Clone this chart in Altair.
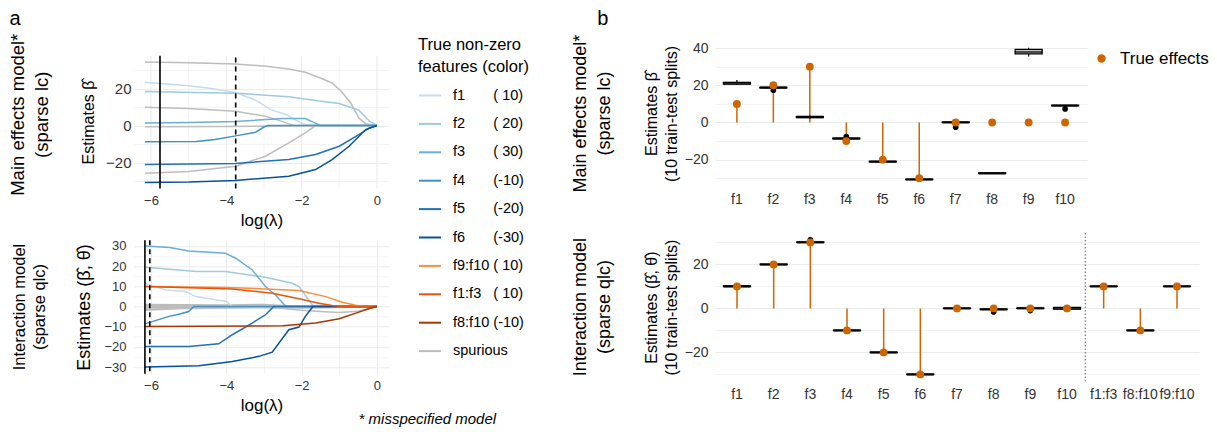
import json
import altair as alt
import pandas as pd

FONT = "Liberation Sans"

# ---------------- Panel a: regularisation paths ----------------
series_order = ["f1", "f2", "f3", "f4", "f5", "f6", "f9:f10", "f1:f3", "f8:f10", "spurious"]
series_colors = ["#c6dbef", "#9ecae1", "#6baed6", "#4292c6", "#2171b5", "#08519c",
                 "#fd8d3c", "#e6550d", "#a63603", "#bdbdbd"]
series_true = ["(\u00a010)", "(\u00a020)", "(\u00a030)", "(-10)", "(-20)", "(-30)",
               "(\u00a010)", "(\u00a010)", "(-10)", ""]
series_gap = [7, 7, 7, 7, 7, 7, 1, 3, 1, 0]

# main effects model (sparse lc): (log lambda, estimate)
top_f1 = [(-6.16, 23.4), (-5.0, 21.5), (-4.3, 19.8), (-3.73, 17.7), (-3.2, 13.5), (-2.82, 8.6),
          (-2.42, 6.0), (-2.2, 3.5), (-1.98, 1.0), (-1.8, 0), (0, 0)]
top_f2 = [(-6.16, 18.4), (-3.73, 17.5), (-2.34, 15.5), (-1.54, 13.2), (-1.0, 11.9),
          (-0.48, 8.3), (-0.2, 2.3), (0, 0)]
top_f3 = [(-6.16, 1.3), (-5.0, 1.6), (-3.75, 2.2), (-2.5, 3.8), (-1.9, 3.8), (-1.7, 1.8),
          (-1.5, 0), (0, 0)]
top_f4 = [(-6.16, -8.8), (-4.8, -8.6), (-4.3, -7.6), (-3.75, -5.6), (-3.22, -3.6), (-3.0, -0.8),
          (-2.9, 0), (0, 0)]
top_f5 = [(-6.16, -21.1), (-3.75, -20.5), (-2.34, -18.4), (-1.63, -15.7), (-1.0, -11.2),
          (-0.48, -4.9), (-0.2, -1.3), (0, 0)]
top_f6 = [(-6.16, -30.8), (-5.0, -30.6), (-3.75, -29.7), (-2.34, -27.4), (-1.63, -23.8),
          (-1.19, -18.4), (-0.74, -11.2), (-0.3, -2.2), (0, 0)]
top_f7 = [(-6.16, -0.7), (-4.0, -0.5), (-2.5, -0.3), (-1.7, 0), (0, 0)]
top_f8 = [(-6.16, -25.8), (-5.0, -24.8), (-3.75, -22.0), (-2.96, -16.6), (-2.34, -9.4),
          (-1.9, -4.0), (-1.63, 0), (0, 0)]
top_f9 = [(-6.16, 34.4), (-5.0, 34.0), (-3.75, 33.3), (-3.0, 32.2), (-2.34, 30.6), (-1.9, 28.8),
          (-1.4, 24.9), (-1.19, 23.0), (-0.95, 18.5), (-0.7, 12.3), (-0.48, 4.0), (-0.3, 1.0), (0, 0)]
top_f10 = [(-6.16, 9.9), (-5.0, 9.2), (-3.75, 7.7), (-2.96, 5.0), (-2.6, 2.8), (-2.34, 0.9),
           (-2.2, 0), (0, 0)]

# interaction model (sparse qlc)
bot_f1 = [(-6.16, 11.5), (-5.6, 8.2), (-5.08, 7.4), (-4.81, 4.9), (-4.0, 2.5), (-3.84, 0), (0, 0)]
bot_f2 = [(-6.16, 19.4), (-5.5, 18.5), (-4.81, 17.3), (-4.02, 17.3), (-2.96, 14.5), (-2.25, 11.5),
          (-2.07, 9.9), (-1.72, 0.8), (-1.68, 0), (0, 0)]
bot_f3 = [(-6.16, 30.0), (-5.5, 29.2), (-5.0, 27.5), (-4.02, 26.4), (-3.75, 23.9), (-3.31, 18.1),
          (-2.96, 9.9), (-2.7, 5.8), (-2.42, 0), (0, 0)]
bot_f4 = [(-6.16, -8.6), (-5.52, -4.9), (-5.26, -3.8), (-5.0, -2.5), (-4.86, 0), (0, 0)]
bot_f5 = [(-6.16, -19.8), (-5.0, -19.8), (-4.2, -18.5), (-3.84, -14.0), (-3.31, -8.2),
          (-2.96, -4.1), (-2.78, -0.8), (-2.75, 0), (0, 0)]
bot_f6 = [(-6.16, -30.0), (-4.73, -29.3), (-3.84, -27.2), (-3.13, -24.7), (-2.78, -22.6),
          (-2.34, -11.5), (-2.07, -10.2), (-1.9, -4.9), (-1.72, -0.5), (-1.7, 0), (0, 0)]
bot_f9f10 = [(-6.16, 9.9), (-4.0, 9.4), (-2.96, 8.7), (-2.07, 7.9), (-1.36, 4.9), (-0.92, 2.1),
             (-0.48, 0.2), (0, 0)]
bot_f1f3 = [(-6.16, 9.9), (-3.84, 8.7), (-2.78, 6.6), (-2.07, 3.8), (-1.54, 1.6), (-1.19, 0.5),
            (-0.9, 0), (0, 0)]
bot_f8f10 = [(-6.16, -9.9), (-2.5, -9.6), (-1.63, -8.2), (-1.0, -6.1), (-0.48, -2.8),
             (-0.2, -1.0), (0, 0)]
bot_s1 = [(-6.16, -1.8), (-5.5, -1.2), (-5.0, -0.5), (-4.5, 0), (0, 0)]
bot_s2 = [(-6.16, 1.0), (-4.0, 0.8), (-3.0, 1.0), (-2.5, 0.5), (-2.0, 0), (0, 0)]
bot_s3 = [(-6.16, -0.5), (-3.0, -0.3), (-2.5, -1.0), (-2.0, -1.8), (-1.5, -2.5), (-1.0, -3.0),
          (-0.5, -2.3), (0, 0)]
bot_s4 = [(-6.16, 0.4), (-3.5, 0.5), (-2.5, 0.3), (-1.5, 0.5), (-1.0, 0.3), (-0.5, 0), (0, 0)]
bot_s5 = [(-6.16, -1.2), (-3.0, -0.6), (-2.0, -0.8), (-1.0, -0.5), (0, 0)]
bot_s6 = [(-6.16, 0), (0, 0)]

rule_kinds = ["lambda.min", "lambda.1se"]
top_rule_lam = [-5.76, -3.75]
bot_rule_lam = [-6.16, -6.03]

x_ticks_a = [-6, -5, -4, -3, -2, -1, 0]
top_panel_ylim = [-34.05, 37.7]

# ---------------- Panel b: estimates over 10 splits ----------------
feat_top = ["f1", "f2", "f3", "f4", "f5", "f6", "f7", "f8", "f9", "f10"]
true_top = [10, 20, 30, -10, -20, -30, 0, 0, 0, 0]
est_top_f1 = [20.3, 20.5, 20.6, 20.8, 21.0, 21.2, 21.4, 21.6, 21.8, 22.8]
est_top_f2 = [18.5, 18.6, 18.7, 18.7, 18.8, 18.8, 18.9, 19.0, 19.1, 17.3]
est_top_f3 = [2.1, 2.4, 2.6, 2.8, 2.9, 3.0, 3.1, 3.2, 3.4, 3.7]
est_top_f4 = [-9.0, -8.9, -8.8, -8.7, -8.6, -8.6, -8.5, -8.4, -8.3, -7.6]
est_top_f5 = [-21.3, -21.2, -21.2, -21.1, -21.1, -21.0, -21.0, -20.9, -20.9, -20.8]
est_top_f6 = [-30.9, -30.8, -30.7, -30.7, -30.6, -30.6, -30.5, -30.5, -30.4, -30.3]
est_top_f7 = [-0.1, 0.0, 0.0, 0.1, 0.1, 0.2, 0.2, 0.3, 0.3, -2.5]
est_top_f8 = [-27.6, -27.5, -27.4, -27.4, -27.3, -27.3, -27.2, -27.1, -27.0, -26.9]
est_top_f9 = [35.5, 36.3, 36.8, 37.1, 37.6, 38.2, 38.9, 39.5, 39.8, 40.2]
est_top_f10 = [8.9, 9.0, 9.0, 9.1, 9.1, 9.2, 9.2, 9.3, 9.4, 7.3]

feat_bot = ["f1", "f2", "f3", "f4", "f5", "f6", "f7", "f8", "f9", "f10", "f1:f3", "f8:f10", "f9:f10"]
true_bot = [10, 20, 30, -10, -20, -30, 0, 0, 0, 0, 10, -10, 10]
est_bot_f1 = [9.6, 9.8, 9.9, 10.0, 10.0, 10.1, 10.2, 10.3, 10.4, 10.8]
est_bot_f2 = [19.8, 19.9, 19.9, 20.0, 20.0, 20.0, 20.1, 20.1, 20.2, 20.2]
est_bot_f3 = [29.8, 29.9, 30.0, 30.0, 30.1, 30.1, 30.2, 30.2, 30.3, 31.2]
est_bot_f4 = [-10.2, -10.1, -10.1, -10.0, -10.0, -10.0, -9.9, -9.9, -9.8, -9.8]
est_bot_f5 = [-20.2, -20.1, -20.1, -20.0, -20.0, -20.0, -19.9, -19.9, -19.8, -19.8]
est_bot_f6 = [-30.2, -30.1, -30.1, -30.0, -30.0, -30.0, -29.9, -29.9, -29.8, -29.8]
est_bot_f7 = [-0.1, 0.0, 0.0, 0.0, 0.0, 0.1, 0.1, 0.1, 0.2, 0.2]
est_bot_f8 = [-0.6, -0.5, -0.5, -0.4, -0.4, -0.3, -0.3, -0.2, -0.2, -1.6]
est_bot_f9 = [-0.1, 0.0, 0.0, 0.1, 0.1, 0.1, 0.2, 0.2, 0.3, -1.0]
est_bot_f10 = [-0.8, -0.6, -0.4, -0.2, 0.0, 0.1, 0.3, 0.5, 0.7, 0.9]
est_bot_f1f3 = [9.9, 9.9, 10.0, 10.0, 10.0, 10.1, 10.1, 10.1, 10.2, 10.2]
est_bot_f8f10 = [-10.2, -10.1, -10.1, -10.0, -10.0, -10.0, -9.9, -9.9, -9.9, -9.8]
est_bot_f9f10 = [9.9, 9.9, 10.0, 10.0, 10.0, 10.1, 10.1, 10.1, 10.2, 10.2]
separator_after = ["f10"]

# ---------------- data tables ----------------
def paths_df(paths):
    rows = []
    for pid, series, pts in paths:
        for lam, est in pts:
            rows.append({"pid": pid, "series": series, "loglam": lam, "est": est})
    return pd.DataFrame(rows)

top_df = paths_df([
    ("f7", "spurious", top_f7), ("f8", "spurious", top_f8), ("f9", "spurious", top_f9),
    ("f10", "spurious", top_f10),
    ("f1", "f1", top_f1), ("f2", "f2", top_f2), ("f3", "f3", top_f3), ("f4", "f4", top_f4),
    ("f5", "f5", top_f5), ("f6", "f6", top_f6),
])
bot_df = paths_df([
    ("s1", "spurious", bot_s1), ("s2", "spurious", bot_s2), ("s3", "spurious", bot_s3),
    ("s4", "spurious", bot_s4), ("s5", "spurious", bot_s5), ("s6", "spurious", bot_s6),
    ("f1", "f1", bot_f1), ("f2", "f2", bot_f2), ("f3", "f3", bot_f3), ("f4", "f4", bot_f4),
    ("f5", "f5", bot_f5), ("f6", "f6", bot_f6),
    ("f9:f10", "f9:f10", bot_f9f10), ("f1:f3", "f1:f3", bot_f1f3), ("f8:f10", "f8:f10", bot_f8f10),
])
top_rule_df = pd.DataFrame({"loglam": top_rule_lam, "kind": rule_kinds,
                            "ylo": top_panel_ylim[0], "yhi": top_panel_ylim[1]})
bot_rule_df = pd.DataFrame({"loglam": bot_rule_lam, "kind": rule_kinds})
top_xgrid_df = pd.DataFrame({"loglam": x_ticks_a,
                             "grid": ["major" if v % 2 == 0 else "minor" for v in x_ticks_a],
                             "ylo": top_panel_ylim[0], "yhi": top_panel_ylim[1]})

label_map = {s: (s + "\u00a0" * g + t) for s, g, t in zip(series_order, series_gap, series_true)}
label_expr = json.dumps(label_map, ensure_ascii=False) + "[datum.label]"

est_top = [est_top_f1, est_top_f2, est_top_f3, est_top_f4, est_top_f5,
           est_top_f6, est_top_f7, est_top_f8, est_top_f9, est_top_f10]
est_bot = [est_bot_f1, est_bot_f2, est_bot_f3, est_bot_f4, est_bot_f5, est_bot_f6, est_bot_f7,
           est_bot_f8, est_bot_f9, est_bot_f10, est_bot_f1f3, est_bot_f8f10, est_bot_f9f10]
box_top_df = pd.DataFrame([{"feature": f, "value": v} for f, vals in zip(feat_top, est_top) for v in vals])
box_bot_df = pd.DataFrame([{"feature": f, "value": v} for f, vals in zip(feat_bot, est_bot) for v in vals])
true_top_df = pd.DataFrame({"feature": feat_top, "truth": true_top, "zero": 0, "lbl": "True effects"})
true_bot_df = pd.DataFrame({"feature": feat_bot, "truth": true_bot, "zero": 0, "lbl": "True effects"})
sep_df = pd.DataFrame({"feature": separator_after})

# ---------------- helpers ----------------
def grid_width(major_test):
    return {"condition": {"test": major_test, "value": 1.1}, "value": 0.55}


def row_title(line1, line2, size, pad, offset):
    return alt.TitleParams(line1, subtitle=line2, orient="left", anchor="middle", frame="group",
                           fontSize=size, subtitleFontSize=size, subtitleFont=FONT,
                           subtitleColor="black", subtitleFontWeight="normal",
                           subtitlePadding=pad, offset=offset, fontWeight="normal")


def x_axis_a(grid):
    return alt.Axis(values=x_ticks_a, grid=grid,
                    labelExpr="datum.value % 2 === 0 ? datum.label : ''",
                    gridWidth=grid_width("datum.value % 2 === 0"),
                    title="log(\u03bb)", labelFontSize=13, titleFontSize=17,
                    labelPadding=6, titlePadding=5)


x_scale_a = alt.Scale(domain=[-6.45, 0.32], nice=False, zero=False)
x_axis_a_top = x_axis_a(False)
x_axis_a_bot = x_axis_a(True)

color_enc = alt.Color(
    "series:N",
    scale=alt.Scale(domain=series_order, range=series_colors),
    legend=alt.Legend(
        orient="none", legendX=284, legendY=-4,
        title=["True non-zero", "features (color)"],
        titleFontSize=16.5, titleLineHeight=22, titleFontWeight="normal", titleColor="black",
        titlePadding=8, titleAnchor="start",
        labelFontSize=14.5, labelColor="black", labelOffset=11, labelExpr=label_expr,
        symbolType="stroke", symbolSize=484, symbolStrokeWidth=2, rowPadding=9.4,
    ),
)
dash_enc = alt.StrokeDash("kind:N", scale=alt.Scale(domain=rule_kinds, range=[[1, 0], [5, 4]]), legend=None)

y_scale_a_top = alt.Scale(domain=[-34.05, 45.7], nice=False, zero=False)
y_axis_a_top = alt.Axis(values=[-30, -20, -10, 0, 10, 20, 30],
                        labelExpr="datum.value % 20 === 0 ? datum.label : ''",
                        gridWidth=grid_width("datum.value % 20 === 0"),
                        title="Estimates \u03b2\u0302", titleY=81, labelFontSize=15,
                        titleFontSize=16, labelPadding=3, titlePadding=9)

# ---- a, top ----
a_top_grid = alt.Chart(top_xgrid_df).mark_rule(color="#ebebeb").encode(
    x=alt.X("loglam:Q", scale=x_scale_a, axis=x_axis_a_top),
    y=alt.Y("ylo:Q", scale=y_scale_a_top, axis=y_axis_a_top), y2="yhi:Q",
    strokeWidth=alt.StrokeWidth("grid:N", scale=alt.Scale(domain=["major", "minor"], range=[1.1, 0.55]),
                                legend=None))
a_top_lines = alt.Chart(top_df).mark_line(strokeWidth=1.5).encode(
    x=alt.X("loglam:Q", scale=x_scale_a, axis=x_axis_a_top),
    y=alt.Y("est:Q", scale=y_scale_a_top, axis=y_axis_a_top),
    color=color_enc, detail="pid:N", order="loglam:Q",
)
a_top_rules = alt.Chart(top_rule_df).mark_rule(color="black", strokeWidth=1.6).encode(
    x=alt.X("loglam:Q", scale=x_scale_a, axis=x_axis_a_top),
    y=alt.Y("ylo:Q", scale=y_scale_a_top, axis=y_axis_a_top), y2="yhi:Q", strokeDash=dash_enc)
a_top = alt.layer(a_top_grid, a_top_lines, a_top_rules).properties(
    width=255, height=147.5,
    title=row_title("Main effects model*", "(sparse lc)", 18.5, 6, 29))

# ---- a, bottom ----
y_scale_a_bot = alt.Scale(domain=[-33.3, 32.8], nice=False, zero=False)
y_axis_a_bot = alt.Axis(values=list(range(-30, 31, 5)),
                        labelExpr="datum.value % 10 === 0 ? datum.label : ''",
                        gridWidth=grid_width("datum.value % 10 === 0"),
                        title="Estimates (\u03b2\u0302, \u03b8\u0302)", labelFontSize=13,
                        titleFontSize=18, labelPadding=8, titlePadding=10)
a_bot_lines = alt.Chart(bot_df).mark_line(strokeWidth=1.5).encode(
    x=alt.X("loglam:Q", scale=x_scale_a, axis=x_axis_a_bot),
    y=alt.Y("est:Q", scale=y_scale_a_bot, axis=y_axis_a_bot),
    color=color_enc, detail="pid:N", order="loglam:Q",
)
a_bot_rules = alt.Chart(bot_rule_df).mark_rule(color="black", strokeWidth=1.6).encode(
    x=alt.X("loglam:Q", scale=x_scale_a, axis=x_axis_a_bot), strokeDash=dash_enc)
a_bot = alt.layer(a_bot_lines, a_bot_rules).properties(
    width=255, height=133.4,
    title=row_title("Interaction model", "(sparse qlc)", 16.5, 4, 27))

left = alt.vconcat(a_top, a_bot, spacing=51.3, bounds="flush",
                   title=alt.TitleParams("a", anchor="start", frame="bounds", orient="top", fontSize=20,
                                         fontWeight="normal", baseline="alphabetic", offset=-11, dx=1)
                   ).resolve_scale(strokeWidth="independent")

# ---- b ----
orange = "#cd6600"
box_kwargs = dict(
    size=27, extent=1.5, color="black", ticks=False,
    box={"fill": "white", "stroke": "black", "strokeWidth": 1.3},
    median={"color": "black", "thickness": 2.6},
    rule={"color": "black", "strokeWidth": 1.2},
    outliers={"color": "black", "filled": True, "size": 32, "opacity": 1},
)
x_axis_b = alt.Axis(title=None, labelAngle=0, labelFontSize=14, labelPadding=6,
                    tickBand="center", gridWidth=1.1)


def b_panel(box_df, true_df, feats, ydom, yvals, ytitle, height, width, show_legend, rtitle, sep=None):
    xs = alt.Scale(domain=feats, paddingInner=0, paddingOuter=0.1)
    ys = alt.Scale(domain=ydom, nice=False, zero=False)
    yax = alt.Axis(values=yvals, labelExpr="datum.value % 20 === 0 ? datum.label : ''",
                   gridWidth=grid_width("datum.value % 20 === 0"),
                   title=ytitle, labelFontSize=14, titleFontSize=16, titleLineHeight=20,
                   labelPadding=7, titlePadding=5)
    seg = alt.Chart(true_df).mark_rule(color=orange, strokeWidth=1.5).encode(
        x=alt.X("feature:N", scale=xs, axis=x_axis_b),
        y=alt.Y("zero:Q", scale=ys, axis=yax), y2="truth:Q")
    box = alt.Chart(box_df).mark_boxplot(**box_kwargs).encode(
        x=alt.X("feature:N", scale=xs, axis=x_axis_b),
        y=alt.Y("value:Q", scale=ys, axis=yax))
    if show_legend:
        col = alt.Color("lbl:N", scale=alt.Scale(domain=["True effects"], range=[orange]),
                        legend=alt.Legend(title=None, orient="none", legendX=378, legendY=9,
                                          labelFontSize=17, labelColor="black", labelOffset=10,
                                          symbolType="circle", symbolSize=70, symbolStrokeWidth=0))
    else:
        col = alt.value(orange)
    pts = alt.Chart(true_df).mark_circle(size=62, opacity=1).encode(
        x=alt.X("feature:N", scale=xs, axis=x_axis_b),
        y=alt.Y("truth:Q", scale=ys, axis=yax), color=col)
    layers = [seg, box, pts]
    if sep is not None:
        layers.append(alt.Chart(sep).mark_rule(color="#8a8a8a", strokeWidth=1.5, strokeDash=[1.5, 2]).encode(
            x=alt.X("feature:N", scale=xs, axis=x_axis_b, bandPosition=1)))
    return alt.layer(*layers).properties(width=width, height=height, title=rtitle)


b_top = b_panel(box_top_df, true_top_df, feat_top, [-34.2, 43.8], list(range(-30, 41, 10)),
                ["Estimates \u03b2\u0302", "(10 train-test splits)"], 145.1, 372, True,
                row_title("Main effects model*", "(sparse lc)", 18, 6, 29))
b_bot = b_panel(box_bot_df, true_bot_df, feat_bot, [-33.1, 34.3], list(range(-30, 31, 10)),
                ["Estimates (\u03b2\u0302, \u03b8\u0302)", "(10 train-test splits)"], 148.2, 484, False,
                row_title("Interaction model", "(sparse qlc)", 18, 6, 29), sep=sep_df)

right = alt.vconcat(b_top, b_bot, spacing=46, bounds="flush",
                    title=alt.TitleParams("b", anchor="start", frame="bounds", orient="top", fontSize=20,
                                          fontWeight="normal", baseline="alphabetic", offset=-10, dx=25)
                    ).resolve_scale(color="independent").resolve_legend(color="independent")

chart = alt.hconcat(left, right, spacing=43).resolve_scale(
    color="independent", strokeDash="independent", strokeWidth="independent"
).resolve_legend(color="independent")
chart = chart.properties(
    padding=0,
    title=alt.TitleParams("* misspecified model", orient="bottom", anchor="start", frame="bounds",
                          dx=350, offset=-2, fontSize=15, fontStyle="italic", fontWeight="normal",
                          baseline="top"),
).configure(font=FONT).configure_view(stroke=None).configure_axis(
    domain=False, ticks=False, labelColor="#333333", titleColor="black", titleFontWeight="normal",
    gridColor="#ebebeb", labelFont=FONT, titleFont=FONT,
).configure_title(font=FONT, color="black", fontWeight="normal").configure_legend(labelFont=FONT, titleFont=FONT)

chart.save("out.html", embed_options={"renderer": "svg", "actions": False})
